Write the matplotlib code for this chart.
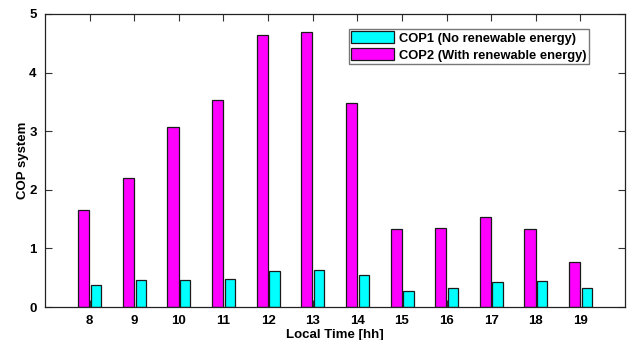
import numpy as np
from matplotlib import pyplot as plt

hours = [8, 9, 10, 11, 12, 13, 14, 15, 16, 17, 18, 19]
cop1 = [0.38, 0.46, 0.46, 0.48, 0.61, 0.63, 0.55, 0.27, 0.32, 0.42, 0.44, 0.32]
cop2 = [1.65, 2.20, 3.07, 3.53, 4.64, 4.70, 3.48, 1.33, 1.34, 1.53, 1.33, 0.76]

plt.rcParams['font.family'] = ['Liberation Sans', 'DejaVu Sans']
plt.rcParams['font.size'] = 9
plt.rcParams['font.weight'] = 'bold'

fig = plt.figure(figsize=(6.29, 3.4), dpi=100)
ax = fig.add_axes([45/629, 33/340, 580/629, 293/340])

x = np.array(hours, dtype=float)
# faint shadow like the original export
ax.bar(x - 0.13 + 0.02, cop2, width=0.25, bottom=-0.02, color='#cccccc', edgecolor='none', zorder=1)
ax.bar(x + 0.145 + 0.02, cop1, width=0.23, bottom=-0.02, color='#cccccc', edgecolor='none', zorder=1)
b1 = ax.bar(x + 0.145, cop1, width=0.23, color='#00ffff', edgecolor='#1a1a1a', linewidth=0.9,
            label='COP1 (No renewable energy)', zorder=2)
b2 = ax.bar(x - 0.13, cop2, width=0.25, color='#ff00ff', edgecolor='#1a1a1a', linewidth=0.9,
            label='COP2 (With renewable energy)', zorder=2)

ax.set_xlim(7, 20)
ax.set_ylim(0, 5)
ax.set_xticks(hours)
ax.set_yticks([0, 1, 2, 3, 4, 5])
ax.tick_params(direction='in', top=True, right=True, length=5, width=0.8, pad=6,
               labelsize=9.5, color='#333333')
for lab in ax.get_xticklabels() + ax.get_yticklabels():
    lab.set_fontweight('bold')
for s in ax.spines.values():
    s.set_linewidth(0.9)
    s.set_color('#222222')

ax.set_xlabel('Local Time [hh]', fontsize=9.5, fontweight='bold', labelpad=1)
ax.set_ylabel('COP system', fontsize=9.5, fontweight='bold', labelpad=0)

leg = ax.legend(handles=[b1, b2], loc='upper right', bbox_to_anchor=(589/629, 1 - 29/340),
                bbox_transform=fig.transFigure, borderaxespad=0, fancybox=False, framealpha=1,
                edgecolor='#777777', handlelength=3.3, handleheight=1.0, handletextpad=0.4,
                borderpad=0.18, labelspacing=0.3, prop={'size': 9.3, 'weight': 'bold'})
leg.get_frame().set_linewidth(1.0)

fig.savefig('out.png', dpi=100)
